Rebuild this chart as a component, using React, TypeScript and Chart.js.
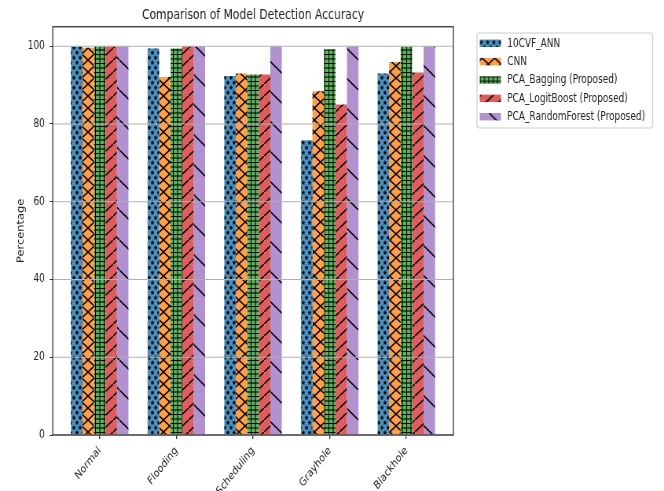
import React, { useEffect, useRef } from "react";
import { Chart, registerables } from "chart.js";

Chart.register(...registerables);

// ---- data ----
const categories = ["Normal", "Flooding", "Scheduling", "Grayhole", "Blackhole"];
const seriesNames = [
  "10CVF_ANN",
  "CNN",
  "PCA_Bagging (Proposed)",
  "PCA_LogitBoost (Proposed)",
  "PCA_RandomForest (Proposed)",
];
const ann10cvf = [99.9, 99.4, 92.3, 75.8, 93.0];
const cnn = [99.6, 92.1, 93.0, 88.4, 95.9];
const pcaBagging = [100, 99.4, 92.7, 99.2, 99.9];
const pcaLogitBoost = [100, 100, 92.7, 85.0, 93.2];
const pcaRandomForest = [100, 100, 100, 100, 100];
const yTickValues = [0, 20, 40, 60, 80, 100];
const titleText = "Comparison of Model Detection Accuracy";
const yAxisTitle = "Percentage";

// ---- styling ----
const W = 845; // logical canvas width (displayed squeezed into 664px)
const H = 491;
const DISPLAY_W = 664;
const FONT = "'DejaVu Sans', sans-serif";
const TEXT = "#222222";
const colors = [
  "rgb(76,146,195)",
  "rgb(255,159,74)",
  "rgb(93,182,93)",
  "rgb(224,93,94)",
  "rgb(177,145,207)",
];
const hatchKinds = ["stars", "cross", "plus", "slash", "backslash"];
const legendPatternShift = [0, 3, 0, 2, 12];

const PLOT_LEFT = 67.1;
const PLOT_RIGHT = 576.9;
const PAD_LEFT = 18.7;

function makeTile(kind: string, color: string): HTMLCanvasElement {
  const sizes: Record<string, [number, number]> = {
    stars: [8, 10],
    cross: [16, 12],
    plus: [11, 9],
    slash: [16, 12],
    backslash: [38, 30],
  };
  const [w, h] = sizes[kind];
  const c = document.createElement("canvas");
  c.width = w;
  c.height = h;
  const g = c.getContext("2d")!;
  g.fillStyle = color;
  g.fillRect(0, 0, w, h);
  g.strokeStyle = "#000";
  g.fillStyle = "#000";
  g.lineWidth = 1.45;
  const line = (x1: number, y1: number, x2: number, y2: number) => {
    g.beginPath();
    g.moveTo(x1, y1);
    g.lineTo(x2, y2);
    g.stroke();
  };
  const star = (cx: number, cy: number, r: number) => {
    g.beginPath();
    for (let i = 0; i < 10; i++) {
      const rr = i % 2 === 0 ? r : r * 0.48;
      const a = -Math.PI / 2 + (i * Math.PI) / 5;
      const x = cx + rr * Math.cos(a);
      const y = cy + rr * Math.sin(a);
      if (i === 0) g.moveTo(x, y);
      else g.lineTo(x, y);
    }
    g.closePath();
    g.fill();
  };
  if (kind === "stars") {
    const pts = [
      [2, 2.7],
      [6, 7.7],
    ];
    pts.forEach(([x, y]) => {
      for (let dx = -w; dx <= w; dx += w)
        for (let dy = -h; dy <= h; dy += h) star(x + dx, y + dy, 2.7);
    });
  } else if (kind === "cross") {
    line(-w, -h, 2 * w, 2 * h);
    line(-w, 2 * h, 2 * w, -h);
  } else if (kind === "plus") {
    g.lineWidth = 1.1;
    line(0.5, 0, 0.5, h);
    line(6, 0, 6, h);
    line(0, 0.5, w, 0.5);
    line(0, 5, w, 5);
  } else if (kind === "slash") {
    line(-w, 2 * h, 2 * w, -h);
  } else if (kind === "backslash") {
    line(-w, -h, 2 * w, 2 * h);
  }
  return c;
}

export default function App() {
  const ref = useRef<HTMLCanvasElement | null>(null);

  useEffect(() => {
    document.body.style.margin = "0";
    const canvas = ref.current!;
    const ctx = canvas.getContext("2d")!;
    const seriesValues = [ann10cvf, cnn, pcaBagging, pcaLogitBoost, pcaRandomForest];
    const patterns = hatchKinds.map(
      (k, i) => ctx.createPattern(makeTile(k, colors[i]), "repeat") as CanvasPattern
    );

    const datasets = seriesValues.map((vals, i) => ({
      label: seriesNames[i],
      data: vals.map((v, j) => ({ x: j, y: v })),
      backgroundColor: patterns[i],
      borderWidth: 0,
      categoryPercentage: 0.75,
      barPercentage: 1.0,
    }));

    const overlayPlugin = {
      id: "overlay",
      afterDatasetsDraw(chart: any) {
        const c = chart.ctx;
        const area = chart.chartArea;
        const ys = chart.scales.y;
        c.save();
        c.strokeStyle = "#b0b0b0";
        c.lineWidth = 1.1;
        yTickValues.forEach((v) => {
          const py = ys.getPixelForValue(v);
          c.beginPath();
          c.moveTo(area.left, py);
          c.lineTo(area.right, py);
          c.stroke();
        });
        c.strokeStyle = "#333333";
        c.lineWidth = 1.3;
        c.strokeRect(area.left, area.top, area.right - area.left, area.bottom - area.top);
        c.restore();
      },
      afterDraw(chart: any) {
        const c = chart.ctx;
        c.save();
        // legend frame
        const bx = 607, by = 33, bw = 830.6 - 607, bh = 128 - 33, r = 3;
        c.beginPath();
        c.moveTo(bx + r, by);
        c.lineTo(bx + bw - r, by);
        c.quadraticCurveTo(bx + bw, by, bx + bw, by + r);
        c.lineTo(bx + bw, by + bh - r);
        c.quadraticCurveTo(bx + bw, by + bh, bx + bw - r, by + bh);
        c.lineTo(bx + r, by + bh);
        c.quadraticCurveTo(bx, by + bh, bx, by + bh - r);
        c.lineTo(bx, by + r);
        c.quadraticCurveTo(bx, by, bx + r, by);
        c.closePath();
        c.fillStyle = "rgba(255,255,255,0.8)";
        c.fill();
        c.strokeStyle = "#cccccc";
        c.lineWidth = 1.2;
        c.stroke();
        c.font = `11.4px ${FONT}`;
        c.textBaseline = "middle";
        c.textAlign = "left";
        chart.data.datasets.forEach((ds: any, i: number) => {
          const cy = 43.3 + i * 18.35;
          const px = 610.5, py = cy - 3.7;
          const ox = px + legendPatternShift[i];
          c.save();
          c.translate(ox, py);
          c.fillStyle = ds.backgroundColor;
          c.fillRect(px - ox, 0, 27, 7.4);
          c.restore();
          c.fillStyle = TEXT;
          c.fillText(ds.label, 645.5, cy + 0.5);
        });
        c.restore();
      },
    };

    const chart = new Chart(canvas, {
      type: "bar",
      data: { datasets: datasets as any },
      options: {
        animation: false,
        responsive: false,
        devicePixelRatio: 1,
        layout: { padding: { left: PAD_LEFT, right: W - PLOT_RIGHT, top: 0, bottom: 0 } },
        plugins: {
          legend: { display: false },
          tooltip: { enabled: false },
          title: {
            display: true,
            text: titleText,
            fullSize: false,
            color: TEXT,
            font: { family: FONT, size: 13.7, weight: "normal" },
            padding: { top: 6.8, bottom: 3.5 },
          },
        },
        scales: {
          x: {
            type: "linear",
            min: -0.6125,
            max: 4.6125,
            offset: false,
            grid: {
              offset: false,
              drawOnChartArea: false,
              drawTicks: true,
              tickLength: 4,
              color: "#333333",
              lineWidth: 1.3,
            },
            border: { display: false },
            afterBuildTicks: (s: any) => {
              s.ticks = categories.map((_, i) => ({ value: i }));
            },
            afterFit: (s: any) => {
              s.height = H - 435;
            },
            ticks: {
              autoSkip: false,
              minRotation: 45,
              maxRotation: 45,
              padding: 5,
              color: TEXT,
              font: { family: FONT, size: 11.4 },
              callback: (v: any) => categories[Number(v)] ?? "",
            },
          },
          y: {
            min: 0,
            max: 105,
            grid: {
              drawOnChartArea: false,
              drawTicks: true,
              tickLength: 4,
              color: "#333333",
              lineWidth: 1,
            },
            border: { display: false },
            afterBuildTicks: (s: any) => {
              s.ticks = yTickValues.map((v) => ({ value: v }));
            },
            afterFit: (s: any) => {
              s.width = PLOT_LEFT - PAD_LEFT;
            },
            ticks: {
              padding: 6,
              color: TEXT,
              font: { family: FONT, size: 11.4 },
            },
            title: {
              display: true,
              text: yAxisTitle,
              color: TEXT,
              font: { family: FONT, size: 11.4 },
              padding: { top: 1.5, bottom: 0 },
            },
          },
        },
      } as any,
      plugins: [overlayPlugin],
    });

    return () => chart.destroy();
  }, []);

  return (
    <div
      style={{
        position: "fixed",
        left: 0,
        top: 0,
        width: DISPLAY_W,
        height: H,
        overflow: "hidden",
        background: "#ffffff",
      }}
    >
      <canvas
        ref={ref}
        width={W}
        height={H}
        style={{ width: `${DISPLAY_W}px`, height: `${H}px`, display: "block" }}
      />
    </div>
  );
}
